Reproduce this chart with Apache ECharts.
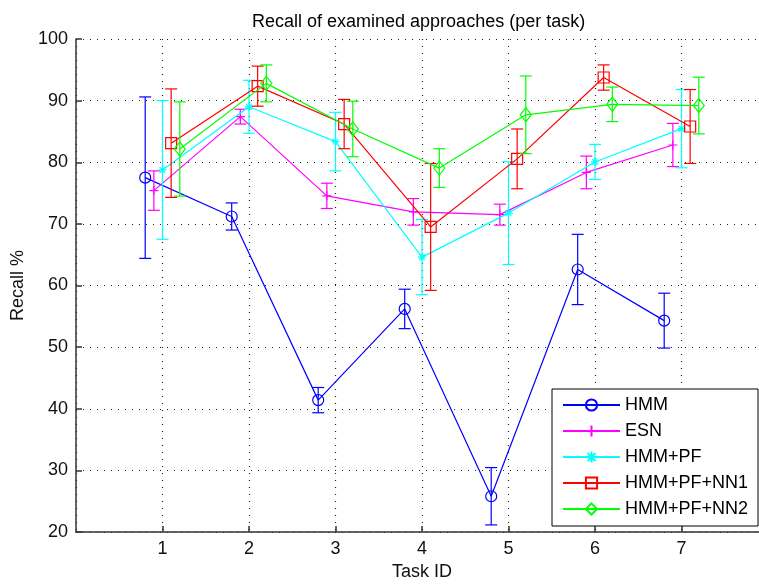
<!DOCTYPE html>
<html>
<head>
<meta charset="utf-8">
<script src="https://cdn.jsdelivr.net/npm/echarts@6/dist/echarts.min.js"></script>
<style>
html,body{margin:0;padding:0;background:#fff;overflow:hidden;width:759px;height:586px;}
#chart{width:768px;height:586px;}
</style>
</head>
<body>
<div id="chart"></div>
<script>
// ---- data ----
var tasks = [1, 2, 3, 4, 5, 6, 7];
var seriesNames = ['HMM', 'ESN', 'HMM+PF', 'HMM+PF+NN1', 'HMM+PF+NN2'];
var xOffsets = [-0.2, -0.1, 0, 0.1, 0.2];

var hmmMean  = [77.5, 71.2, 41.4, 56.2, 25.8, 62.6, 54.3];
var hmmErr   = [13.1, 2.2, 2.05, 3.2, 4.65, 5.7, 4.45];
var esnMean  = [75.4, 87.4, 74.55, 71.95, 71.5, 78.35, 82.8];
var esnErr   = [3.2, 1.2, 2.05, 2.15, 1.7, 2.65, 3.5];
var pfMean   = [78.75, 89.0, 83.35, 64.6, 71.75, 80.05, 85.45];
var pfErr    = [11.25, 4.3, 4.75, 6.1, 8.35, 2.85, 6.35];
var nn1Mean  = [83.1, 92.35, 86.2, 69.5, 80.55, 93.75, 85.8];
var nn1Err   = [8.8, 3.25, 4.0, 10.3, 4.85, 2.05, 6.0];
var nn2Mean  = [82.15, 92.8, 85.4, 79.05, 87.7, 89.4, 89.2];
var nn2Err   = [7.65, 3.0, 4.5, 3.15, 6.3, 2.8, 4.6];

var xTickValues = [1, 2, 3, 4, 5, 6, 7];
var yTickValues = [20, 30, 40, 50, 60, 70, 80, 90, 100];

// ---- styling ----
var colors = ['#0000ff', '#ff00ff', '#00ffff', '#ff0000', '#00ff00'];
var symbols = [
  'circle',
  'path://M0,-1L0,1M-1,0L1,0',
  'path://M0,-1L0,1M-1,0L1,0M-0.7,-0.7L0.7,0.7M-0.7,0.7L0.7,-0.7',
  'rect',
  'diamond'
];
var symbolSizes = [11, 9, 8, 11, [11, 14]];
var means = [hmmMean, esnMean, pfMean, nn1Mean, nn2Mean];
var errs = [hmmErr, esnErr, pfErr, nn1Err, nn2Err];

var series = [];
seriesNames.forEach(function (name, i) {
  var lineData = tasks.map(function (t, k) { return [t + xOffsets[i], means[i][k]]; });
  var errData = tasks.map(function (t, k) {
    return [t + xOffsets[i], means[i][k] - errs[i][k], means[i][k] + errs[i][k]];
  });
  series.push({
    name: name + ' err',
    type: 'custom',
    z: 2 + i * 2,
    silent: true,
    data: errData,
    encode: { x: 0, y: [1, 2] },
    renderItem: function (params, api) {
      var x = api.value(0);
      var lo = api.coord([x, api.value(1)]);
      var hi = api.coord([x, api.value(2)]);
      var hw = 6;
      var st = { stroke: colors[i], lineWidth: 1.2, fill: null };
      return {
        type: 'group',
        children: [
          { type: 'line', shape: { x1: lo[0], y1: lo[1], x2: hi[0], y2: hi[1] }, style: st },
          { type: 'line', shape: { x1: lo[0] - hw, y1: lo[1], x2: lo[0] + hw, y2: lo[1] }, style: st },
          { type: 'line', shape: { x1: hi[0] - hw, y1: hi[1], x2: hi[0] + hw, y2: hi[1] }, style: st }
        ]
      };
    }
  });
  series.push({
    name: name,
    type: 'line',
    z: 3 + i * 2,
    data: lineData,
    symbol: symbols[i],
    symbolSize: symbolSizes[i],
    showAllSymbol: true,
    lineStyle: { color: colors[i], width: 1.2 },
    itemStyle: { color: 'rgba(0,0,0,0)', borderColor: colors[i], borderWidth: 1.2 },
    emphasis: { disabled: true },
    animation: false
  });
});

var chart = echarts.init(document.getElementById('chart'), null, { renderer: 'canvas' });
var font = '"Liberation Sans", Arial, sans-serif';
chart.setOption({
  backgroundColor: '#ffffff',
  animation: false,
  textStyle: { fontFamily: font },
  title: {
    text: 'Recall of examined approaches (per task)',
    left: 247,
    top: 8,
    textStyle: { fontSize: 18, fontWeight: 'normal', color: '#000', fontFamily: font }
  },
  grid: { left: 76, top: 39, bottom: 51, right: 0, containLabel: false },
  xAxis: {
    type: 'value',
    min: 0, max: 8, interval: 1,
    name: 'Task ID',
    nameLocation: 'middle',
    nameGap: 31,
    nameTextStyle: { fontSize: 18, color: '#111', fontFamily: font },
    axisLine: { show: true, onZero: false, lineStyle: { color: '#333', width: 1.5 } },
    axisTick: { show: true, inside: true, length: 6, lineStyle: { color: '#333', width: 1.5 } },
    axisLabel: {
      fontSize: 18, color: '#111', margin: 8,
      showMinLabel: false, showMaxLabel: false,
      formatter: function (v) { return xTickValues.indexOf(v) >= 0 ? String(v) : ''; }
    },
    splitLine: { show: true, lineStyle: { color: '#222', type: [1, 6], width: 1.2 } }
  },
  yAxis: {
    type: 'value',
    min: 20, max: 100, interval: 10,
    name: 'Recall %',
    nameLocation: 'middle',
    nameGap: 43,
    nameTextStyle: { fontSize: 18, color: '#111', fontFamily: font },
    axisLine: { show: true, onZero: false, lineStyle: { color: '#333', width: 1.5 } },
    axisTick: { show: true, inside: true, length: 6, lineStyle: { color: '#333', width: 1.5 } },
    axisLabel: {
      fontSize: 18, color: '#111', margin: 8,
      formatter: function (v) { return yTickValues.indexOf(v) >= 0 ? String(v) : ''; }
    },
    splitLine: { show: true, lineStyle: { color: '#222', type: [1, 6], width: 1.2 } }
  },
  legend: {
    data: seriesNames,
    orient: 'vertical',
    left: 552,
    top: 389,
    padding: [6, 10, 7, 10],
    itemWidth: 57,
    itemHeight: 14,
    itemGap: 6,
    backgroundColor: '#ffffff',
    borderColor: '#000',
    borderWidth: 1,
    borderRadius: 0,
    selectedMode: false,
    textStyle: { fontSize: 18, color: '#000', lineHeight: 20, padding: [0, 0, 0, 0], fontFamily: font }
  },
  series: series
});
</script>
</body>
</html>
